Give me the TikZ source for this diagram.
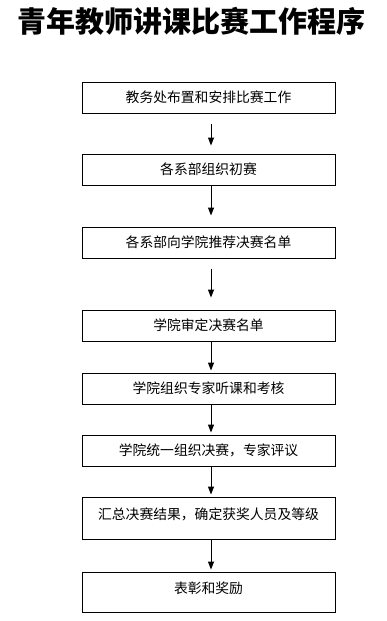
\documentclass[tikz,border=0pt]{standalone}
\usepackage{fontspec}
\newfontfamily\cjk{Noto Sans CJK SC}
\usetikzlibrary{arrows.meta}
\begin{document}
\begin{tikzpicture}[x=1pt,y=-1pt,
  stepbox/.style={draw=black,line width=1pt,minimum width=253pt,minimum height=31pt,inner sep=0pt,font=\cjk\fontsize{13.8pt}{14pt}\selectfont},
  arr/.style={line width=1pt,-{Triangle[width=6pt,length=8pt]}}]
\useasboundingbox (0,0) rectangle (386,621);
\node[font=\cjk\bfseries\fontsize{29pt}{30pt}\selectfont] (title) at (191,21) {青年教师讲课比赛工作程序};
\node[stepbox] (b1) at (208.5,97.5) {教务处布置和安排比赛工作};
\node[stepbox] (b2) at (208.5,169.5) {各系部组织初赛};
\node[stepbox] (b3) at (208.5,242.5) {各系部向学院推荐决赛名单};
\node[stepbox] (b4) at (208.5,325.5) {学院审定决赛名单};
\node[stepbox] (b5) at (208.5,388.5) {学院组织专家听课和考核};
\node[stepbox] (b6) at (208.5,450.5) {学院统一组织决赛，专家评议};
\node[stepbox,minimum height=42pt,text depth=9pt] (b7) at (208.5,518) {汇总决赛结果，确定获奖人员及等级};
\node[stepbox,minimum height=40pt,text depth=8pt] (b8) at (208.5,592) {表彰和奖励};
\draw[arr,shorten <=10pt,shorten >=8pt] ([xshift=2.5pt]b1.south) -- ([xshift=2.5pt]b2.north);
\draw[arr,shorten >=11pt] ([xshift=2.5pt]b2.south) -- ([xshift=2.5pt]b3.north);
\draw[arr,shorten <=10pt,shorten >=12pt] ([xshift=2.5pt]b3.south) -- ([xshift=2.5pt]b4.north);
\draw[arr,shorten >=2pt] ([xshift=2.5pt]b4.south) -- ([xshift=2.5pt]b5.north);
\draw[arr,shorten >=2pt] ([xshift=2.5pt]b5.south) -- ([xshift=2.5pt]b6.north);
\draw[arr,shorten >=2pt] ([xshift=2.5pt]b6.south) -- ([xshift=2.5pt]b7.north);
\draw[arr,shorten >=2pt] ([xshift=2.5pt]b7.south) -- ([xshift=2.5pt]b8.north);
\end{tikzpicture}
\end{document}
